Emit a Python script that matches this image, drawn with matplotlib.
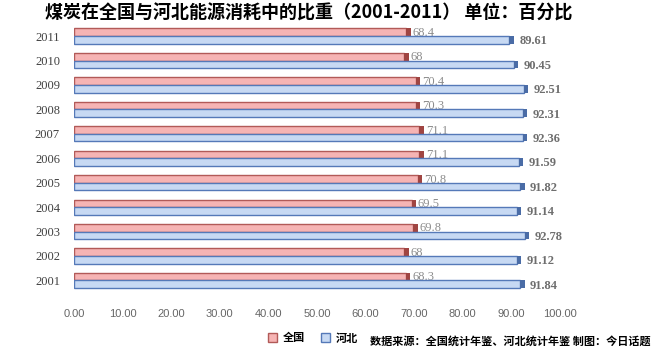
import numpy as np
import matplotlib
matplotlib.use('Agg')
from matplotlib import pyplot as plt
from matplotlib.patches import Patch

years = ['2001', '2002', '2003', '2004', '2005', '2006', '2007', '2008', '2009', '2010', '2011']
national = [68.3, 68, 69.8, 69.5, 70.8, 71.1, 71.1, 70.3, 70.4, 68, 68.4]
hebei = [91.84, 91.12, 92.78, 91.14, 91.82, 91.59, 92.36, 92.31, 92.51, 90.45, 89.61]
xticks = [0, 10, 20, 30, 40, 50, 60, 70, 80, 90, 100]

cjk = ['Noto Sans CJK SC', 'DejaVu Sans']
serif = ['Liberation Serif', 'DejaVu Serif']

red_face, red_edge, red_side = '#F6B4B4', '#B25A58', '#A04542'
blue_face, blue_edge, blue_side = '#C7D9F3', '#5579B8', '#4A6CA6'

fig = plt.figure(figsize=(6.6, 3.56), dpi=100)
ax = fig.add_axes([0.112, 0.178, 0.7364, 0.755])

y = np.arange(len(years))
h = 0.31
yr = y + h / 2
yb = y - h / 2

ax.barh(yr, national, height=h, color=red_face, edgecolor=red_edge, linewidth=1.0, zorder=2)
ax.barh(yb, hebei, height=h, color=blue_face, edgecolor=blue_edge, linewidth=1.0, zorder=3)
# 3d-ish end caps
ax.barh(yr, 0.9, left=national, height=h, color=red_side, linewidth=0, zorder=2)
ax.barh(yb, 0.9, left=hebei, height=h, color=blue_side, linewidth=0, zorder=3)

for i in range(len(years)):
    ax.annotate('{:g}'.format(national[i]), (national[i], yr[i]), xytext=(4.5, -0.5),
                textcoords='offset points', ha='left', va='center',
                fontsize=9, color='#8C8C8C', family=serif, zorder=1)
    ax.annotate('{:.2f}'.format(hebei[i]), (hebei[i], yb[i]), xytext=(7, -1),
                textcoords='offset points', ha='left', va='center',
                fontsize=9, color='#6E6E6E', family=serif, fontweight='bold', zorder=4)

ax.set_xlim(0, 100)
ax.set_ylim(-0.5, len(years) - 0.5)
ax.set_xticks(xticks)
ax.set_xticklabels(['{:.2f}'.format(v) for v in xticks], fontsize=8, color='#666666',
                   family=['Liberation Sans', 'DejaVu Sans'])
ax.set_yticks(y)
ax.set_yticklabels(years, fontsize=9, color='#404040', family=serif)
ax.tick_params(length=0, axis='y', pad=10)
ax.tick_params(length=0, axis='x', pad=12)
for s in ax.spines.values():
    s.set_visible(False)

fig.text(45 / 660, 1 - 13 / 356, '煤炭在全国与河北能源消耗中的比重（2001-2011） 单位：百分比',
         fontsize=13, fontweight='heavy', family=cjk, ha='left', va='center')

handles = [Patch(facecolor=red_face, edgecolor=red_edge), Patch(facecolor=blue_face, edgecolor=blue_edge)]
fig.legend(handles, ['全国', '河北'], loc='center', bbox_to_anchor=(313 / 660, 1 - 338 / 356),
           ncol=2, frameon=False, handlelength=0.8, handleheight=0.8, handletextpad=0.5,
           columnspacing=1.5, prop={'family': cjk, 'weight': 'bold', 'size': 8})

fig.text(370 / 660, 1 - 341 / 356, '数据来源：全国统计年鉴、河北统计年鉴 制图：今日话题',
         fontsize=8, fontweight='bold', family=cjk, ha='left', va='center')

fig.savefig('out.png', dpi=100)
